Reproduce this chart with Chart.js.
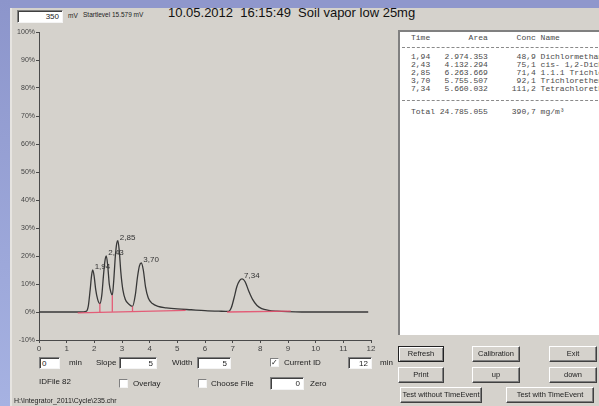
<!DOCTYPE html>
<html>
<head>
<meta charset="utf-8">
<script src="https://cdn.jsdelivr.net/npm/chart.js@4/dist/chart.umd.min.js"></script>
<style>
  body { margin:0; width:599px; height:406px; overflow:hidden; position:relative;
         background:#d5d2cc; font-family:'Liberation Sans', Arial, sans-serif; color:#222; }
  .abs { position:absolute; white-space:nowrap; }
  .edit { position:absolute; background:#fff; border-top:1px solid #808080; border-left:1px solid #808080;
          border-right:1px solid #f4f4f4; border-bottom:1px solid #f4f4f4; box-shadow: inset 1px 1px 0 #404040;
          font-size:8px; text-align:right; padding-right:3px; box-sizing:border-box; line-height:11px; }
  .btn { position:absolute; background:#d5d2cc; border:1px solid; border-color:#fff #404040 #404040 #fff;
         box-shadow: inset -1px -1px 0 #808080; font-size:7.5px; text-align:center; box-sizing:border-box; }
  .chk { position:absolute; width:9px; height:9px; background:#fff; border-top:1px solid #808080; border-left:1px solid #808080;
         border-right:1px solid #f4f4f4; border-bottom:1px solid #f4f4f4; box-sizing:border-box; font-size:8px; line-height:8px; text-align:center; }
  .lbl { position:absolute; font-size:8px; white-space:nowrap; }
  #table { position:absolute; left:398px; top:30px; width:201px; height:305px; background:#fff; overflow:hidden;
           border-left:2px solid #808080; border-top:2px solid #808080; box-sizing:border-box; }
  .tl { position:absolute; left:11px; margin:0; font-family:'Liberation Mono', 'Courier New', monospace;
        font-size:8px; line-height:8px; height:8px; color:#4a4a4a; white-space:pre; }
  .dash { position:absolute; left:2px; width:196px; height:0; border-top:1px dashed #8a8a8a; }
</style>
</head>
<body>
<div class="abs" style="left:0;top:0;width:599px;height:8px;background:#8f97cc;"></div>
<div class="abs" style="left:0;top:0;width:10px;height:406px;background:linear-gradient(#8c95cb,#a6b2e2);"></div>
<div class="abs" style="left:10px;top:8px;width:2px;height:398px;background:#e6e4e0;"></div>

<div class="edit" style="left:17px;top:10px;width:46px;height:13px;">350</div>
<div class="lbl" style="left:68px;top:12px;font-size:6.5px;">mV</div>
<div class="lbl" style="left:83px;top:11px;font-size:6.5px;">Startlevel 15.579 mV</div>
<div class="abs" style="left:168px;top:5px;font-size:13px;color:#111;font-weight:500;">10.05.2012&nbsp; 16:15:49&nbsp; Soil vapor low 25mg</div>

<div style="position:absolute;left:0;top:0;width:395px;height:360px;">
  <canvas id="chromChart"></canvas>
</div>

<div id="table"></div>

<!-- bottom controls -->
<div class="edit" style="left:39px;top:357px;width:21px;height:12px;text-align:left;padding-left:2px;">0</div>
<div class="lbl" style="left:69px;top:358px;">min</div>
<div class="lbl" style="left:96px;top:358px;">Slope</div>
<div class="edit" style="left:119px;top:357px;width:38px;height:12px;">5</div>
<div class="lbl" style="left:172px;top:358px;">Width</div>
<div class="edit" style="left:197px;top:357px;width:34px;height:12px;">5</div>
<div class="chk" style="left:270px;top:358px;">&#10003;</div>
<div class="lbl" style="left:284px;top:358px;">Current ID</div>
<div class="edit" style="left:348px;top:357px;width:24px;height:12px;">12</div>
<div class="lbl" style="left:380px;top:358px;">min</div>

<div class="lbl" style="left:39px;top:377px;">IDFile 82</div>
<div class="chk" style="left:119px;top:379px;"></div>
<div class="lbl" style="left:133px;top:379px;">Overlay</div>
<div class="chk" style="left:198px;top:379px;"></div>
<div class="lbl" style="left:211px;top:379px;">Choose File</div>
<div class="edit" style="left:270px;top:377px;width:34px;height:13px;">0</div>
<div class="lbl" style="left:310px;top:379px;">Zero</div>
<div class="lbl" style="left:14px;top:397px;font-size:7px;">H:\Integrator_2011\Cycle\235.chr</div>

<div class="btn" style="left:398px;top:346px;width:46px;height:16px;line-height:14px;border-color:#222;box-shadow:inset 1px 1px 0 #fff, inset -1px -1px 0 #808080;">Refresh</div>
<div class="btn" style="left:472px;top:346px;width:48px;height:16px;line-height:14px;">Calibration</div>
<div class="btn" style="left:549px;top:346px;width:48px;height:16px;line-height:14px;">Exit</div>
<div class="btn" style="left:398px;top:367px;width:46px;height:16px;line-height:14px;">Print</div>
<div class="btn" style="left:472px;top:367px;width:48px;height:16px;line-height:14px;">up</div>
<div class="btn" style="left:549px;top:367px;width:48px;height:16px;line-height:14px;">down</div>
<div class="btn" style="left:400px;top:387px;width:82px;height:16px;line-height:14px;">Test without TimeEvent</div>
<div class="btn" style="left:506px;top:387px;width:88px;height:16px;line-height:14px;">Test with TimeEvent</div>

<script>
'use strict';

// chromatogram trace (time in min, signal in %)
const traceTimes  = [0, 1.5, 1.7, 1.78, 1.85, 1.9, 1.94, 1.99, 2.05, 2.12, 2.2, 2.27, 2.33, 2.38, 2.43, 2.48, 2.54, 2.6, 2.65,
                     2.7, 2.76, 2.81, 2.85, 2.9, 2.96, 3.03, 3.12, 3.25, 3.38, 3.48, 3.56, 3.63, 3.7, 3.77, 3.85, 3.95,
                     4.1, 4.3, 4.6, 5.0, 5.5, 6.0, 6.5, 6.85, 6.95, 7.05, 7.15, 7.25, 7.34, 7.45, 7.58, 7.72, 7.88,
                     8.05, 8.3, 8.6, 9.0, 9.5, 10.5, 11.9];
const traceValues = [0, 0, 0.2, 2, 8, 13, 15, 13, 8, 4.5, 3, 6, 13, 18, 20, 17, 10, 7, 6,
                     11, 20, 24.5, 25.5, 22, 14, 8, 4.5, 2.8, 2, 6, 12.5, 16.5, 17.5, 15, 9, 5,
                     3, 2, 1.5, 1.1, 0.8, 0.5, 0.3, 0.2, 1.5, 5, 9, 11.2, 11.8, 10.8, 7.5, 4.5, 2.3,
                     1.2, 0.6, 0.3, 0.1, 0, 0, 0];

// integration baselines and drop lines
const baseTimes1  = [1.4, 5.3];
const baseValues1 = [-0.3, 0.6];
const baseTimes2  = [6.8, 9.1];
const baseValues2 = [0, 0.3];
const dropTimes   = [2.2, 2.65, 3.38];
const dropBottoms = [0, 0.1, 0.3];
const dropTops    = [3, 6, 2];

// peaks
const peakTimes   = [1.94, 2.43, 2.85, 3.70, 7.34];
const peakHeights = [15, 20, 25.5, 17.5, 11.8];
const peakLabels  = ['1,94', '2,43', '2,85', '3,70', '7,34'];

// result table
const resTimes = ['1,94', '2,43', '2,85', '3,70', '7,34'];
const resAreas = ['2.974.353', '4.132.294', '6.263.669', '5.755.507', '5.660.032'];
const resConcs = ['48,9', '75,1', '71,4', '92,1', '111,2'];
const resNames = ['Dichlormethan', 'cis- 1,2-Dichlorethen', '1.1.1 Trichlorethan', 'Trichlorethen', 'Tetrachlorethen'];
const totalArea = '24.785.055';
const totalConc = '390,7';

const xTicks = [0, 1, 2, 3, 4, 5, 6, 7, 8, 9, 10, 11, 12];

const RED = 'rgba(228, 80, 110, 0.9)';

function pts(xs, ys) {
  return xs.map((x, i) => ({ x: x, y: ys[i] }));
}

function addLine(box, text, top) {
  const d = document.createElement('div');
  d.className = 'tl';
  d.style.top = top + 'px';
  d.textContent = text;
  box.appendChild(d);
}

function addDash(box, top) {
  const d = document.createElement('div');
  d.className = 'dash';
  d.style.top = top + 'px';
  box.appendChild(d);
}

function buildTable() {
  const box = document.getElementById('table');
  // tops are relative to the white box (inside the 2px border)
  addLine(box, 'Time        Area      Conc Name', 2);
  addDash(box, 15);
  resTimes.forEach((t, i) => {
    addLine(box, t + '   ' + resAreas[i] + ' ' + resConcs[i].padStart(9) + ' ' + resNames[i], 21 + i * 8);
  });
  addDash(box, 68);
  addLine(box, 'Total ' + totalArea + ' ' + totalConc.padStart(9) + ' mg/m\u00b3', 76);
}
buildTable();

const peakLabelPlugin = {
  id: 'peakLabels',
  afterDatasetsDraw(chart) {
    const ctx = chart.ctx;
    const xs = chart.scales.x, ys = chart.scales.y;
    ctx.save();
    ctx.font = '8px "Liberation Sans", Arial';
    ctx.fillStyle = '#333';
    ctx.textBaseline = 'middle';
    peakTimes.forEach((t, i) => {
      ctx.fillText(peakLabels[i], xs.getPixelForValue(t) + 2, ys.getPixelForValue(peakHeights[i]) - 3);
    });
    ctx.restore();
  }
};

const datasets = [
  { data: pts(traceTimes, traceValues), borderColor: '#383838', borderWidth: 1.3,
    cubicInterpolationMode: 'monotone', pointRadius: 0, order: 2 },
  { data: pts(baseTimes1, baseValues1), borderColor: RED, borderWidth: 1.3, pointRadius: 0, order: 1 },
  { data: pts(baseTimes2, baseValues2), borderColor: RED, borderWidth: 1.3, pointRadius: 0, order: 1 }
];
dropTimes.forEach((t, i) => {
  datasets.push({ data: pts([t, t], [dropBottoms[i], dropTops[i]]), borderColor: RED, borderWidth: 1.3, pointRadius: 0, order: 1 });
});

new Chart(document.getElementById('chromChart').getContext('2d'), {
  type: 'line',
  data: { datasets: datasets },
  plugins: [peakLabelPlugin],
  options: {
    responsive: true,
    maintainAspectRatio: false,
    animation: false,
    layout: { padding: { top: 32, right: 24, left: 0, bottom: 0 } },
    plugins: { legend: { display: false }, tooltip: { enabled: false } },
    scales: {
      x: {
        type: 'linear', min: 0, max: 12,
        afterFit: s => { s.height = 20; },
        afterBuildTicks: s => { s.ticks = xTicks.map(v => ({ value: v })); },
        border: { color: '#4a4a4a', width: 1 },
        grid: { drawOnChartArea: false, drawTicks: true, tickLength: 3, color: '#4a4a4a' },
        ticks: { font: { size: 8, family: '"Liberation Sans", Arial' }, color: '#444', padding: 1, maxRotation: 0 }
      },
      y: {
        min: -10, max: 100,
        afterFit: s => { s.width = 39; },
        border: { color: '#4a4a4a', width: 1 },
        grid: { drawOnChartArea: false, drawTicks: true, tickLength: 3, color: '#4a4a4a' },
        ticks: { stepSize: 10, font: { size: 7, family: '"Liberation Sans", Arial' }, color: '#444', padding: 1,
                 callback: v => v + '%' }
      }
    }
  }
});
</script>
</body>
</html>
